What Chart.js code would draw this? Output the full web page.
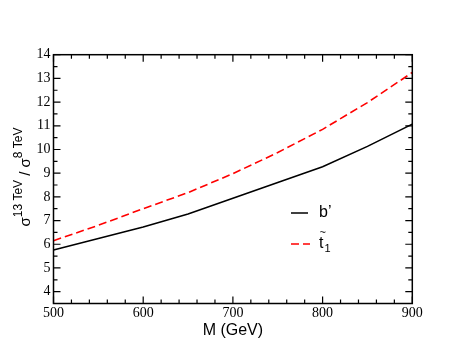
<!DOCTYPE html>
<html>
<head>
<meta charset="utf-8">
<script src="https://cdn.jsdelivr.net/npm/chart.js@4"></script>
<style>
  html, body { margin: 0; padding: 0; background: #fff; }
  #wrap { width: 464px; height: 358px; }
</style>
</head>
<body>
<div id="wrap"><canvas id="c" width="464" height="358"></canvas></div>
<script>
// ---- data ----
const masses = [500, 550, 600, 650, 700, 750, 800, 850, 900];
const bprimeRatio = [5.76, 6.24, 6.73, 7.28, 7.94, 8.61, 9.27, 10.13, 11.07];
const stopRatio = [6.15, 6.80, 7.50, 8.18, 8.98, 9.87, 10.85, 11.98, 13.25];
const xTicks = [500, 600, 700, 800, 900];
const yTicks = [4, 5, 6, 7, 8, 9, 10, 11, 12, 13, 14];
const seriesNames = ['b\u2019', 't'];
const xTitle = 'M (GeV)';

const SERIF = "'Liberation Serif', 'Times New Roman', serif";
const SANS = "'Liberation Sans', Arial, sans-serif";

const toXY = (ys) => masses.map((m, i) => ({ x: m, y: ys[i] }));

const frame = {
  id: 'frame',
  afterDatasetsDraw(chart) {
    const ctx = chart.ctx;
    const a = chart.chartArea;
    const xs = chart.scales.x, ys = chart.scales.y;
    ctx.save();
    ctx.strokeStyle = '#000';
    ctx.lineWidth = 1.5;
    ctx.strokeRect(a.left, a.top, a.right - a.left, a.bottom - a.top);
    ctx.lineWidth = 1.2;
    ctx.beginPath();
    for (let v = 500; v <= 900; v += 20) {
      const px = xs.getPixelForValue(v);
      const len = (v % 100 === 0) ? 7 : 4;
      ctx.moveTo(px, a.bottom); ctx.lineTo(px, a.bottom - len);
      ctx.moveTo(px, a.top); ctx.lineTo(px, a.top + len);
    }
    for (let v = 3.5; v <= 14.001; v += 0.5) {
      const py = ys.getPixelForValue(v);
      const len = (Math.abs(v - Math.round(v)) < 1e-6) ? 7 : 4;
      ctx.moveTo(a.left, py); ctx.lineTo(a.left + len, py);
      ctx.moveTo(a.right, py); ctx.lineTo(a.right - len, py);
    }
    ctx.stroke();

    // legend
    const lx0 = 291, lx1 = 308, tx = 319;
    const ly1 = 213, ly2 = 244;
    ctx.lineWidth = 1.5;
    ctx.strokeStyle = '#000';
    ctx.beginPath(); ctx.moveTo(lx0, ly1); ctx.lineTo(lx1, ly1); ctx.stroke();
    ctx.strokeStyle = '#ff0000';
    ctx.setLineDash([8, 4]);
    ctx.beginPath(); ctx.moveTo(lx0, ly2); ctx.lineTo(lx1 + 2, ly2); ctx.stroke();
    ctx.setLineDash([]);
    ctx.fillStyle = '#000';
    ctx.textBaseline = 'middle';
    ctx.textAlign = 'left';
    ctx.font = '16px ' + SANS;
    ctx.fillText(seriesNames[0], tx, ly1);
    ctx.fillText(seriesNames[1], tx, ly2);
    const tw = ctx.measureText(seriesNames[1]).width;
    ctx.font = '11px ' + SANS;
    ctx.fillText('~', tx + 0.5, ly2 - 11);
    ctx.fillText('1', tx + tw + 1, ly2 + 5);

    // y axis title (rotated, with superscripts)
    ctx.translate(30, 177);
    ctx.rotate(-Math.PI / 2);
    ctx.textBaseline = 'alphabetic';
    const big = '15px ' + SANS;
    const small = '12px ' + SANS;
    const parts = [
      ['\u03C3', big, 0], ['13 TeV', small, -8], [' / ', big, 0],
      ['\u03C3', big, 0], ['8 TeV', small, -8]
    ];
    let total = 0;
    parts.forEach(p => { ctx.font = p[1]; total += ctx.measureText(p[0]).width; });
    let x = -total / 2;
    parts.forEach(p => {
      ctx.font = p[1];
      ctx.fillText(p[0], x, p[2]);
      x += ctx.measureText(p[0]).width;
    });
    ctx.restore();
  }
};

new Chart(document.getElementById('c'), {
  type: 'line',
  data: {
    datasets: [
      { label: seriesNames[0], data: toXY(bprimeRatio), borderColor: '#000', borderWidth: 1.6,
        pointRadius: 0, tension: 0, fill: false },
      { label: seriesNames[1], data: toXY(stopRatio), borderColor: '#ff0000', borderWidth: 1.6,
        borderDash: [8, 4], pointRadius: 0, tension: 0, fill: false }
    ]
  },
  options: {
    responsive: false,
    animation: false,
    devicePixelRatio: 1,
    layout: { padding: { left: 0, top: 54.7, right: 51.7, bottom: 0 } },
    plugins: { legend: { display: false }, tooltip: { enabled: false } },
    scales: {
      x: {
        type: 'linear', min: 500, max: 900,
        grid: { display: false, drawTicks: false, tickLength: 0 }, border: { display: false },
        afterBuildTicks: (s) => { s.ticks = xTicks.map(v => ({ value: v })); },
        afterFit: (s) => { s.height = 358 - 303.5; },
        ticks: { color: '#000', padding: 1, maxRotation: 0,
                 font: { family: SERIF, size: 14 } },
        title: { display: true, text: xTitle, color: '#000',
                 font: { family: SANS, size: 16 },
                 padding: { top: 0, bottom: 18 } }
      },
      y: {
        type: 'linear', min: 3.5, max: 14,
        grid: { display: false, drawTicks: false, tickLength: 0 }, border: { display: false },
        afterBuildTicks: (s) => { s.ticks = yTicks.map(v => ({ value: v })); },
        afterFit: (s) => { s.width = 53.5; },
        ticks: { color: '#000', padding: 3,
                 font: { family: SERIF, size: 14 } }
      }
    }
  },
  plugins: [frame]
});
</script>
</body>
</html>
